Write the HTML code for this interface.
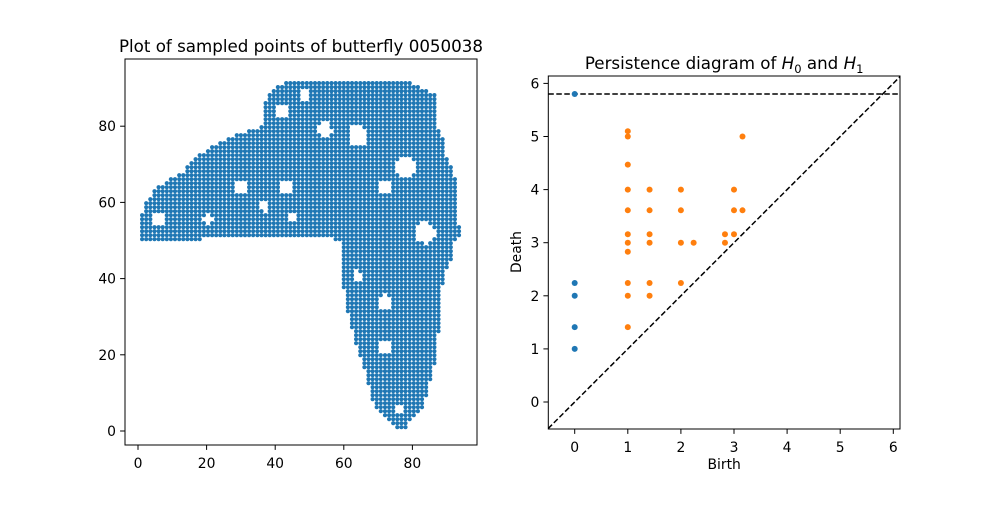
<!DOCTYPE html>
<html><head><meta charset="utf-8">
<style>
body{margin:0;background:#fff;}
svg text{font-family:"DejaVu Sans","Liberation Sans",sans-serif;fill:#000;}
</style></head>
<body>
<svg id="fig" width="1000" height="500" viewBox="0 0 1000 500" xmlns="http://www.w3.org/2000/svg">
<rect width="1000" height="500" fill="#fff"/>
<g id="left"></g>
<g id="right"></g>
</svg>
<script>
// ---- Left chart data: row spans of the butterfly silhouette ----
const rowY =    [1, 2,  6,   12, 20, 30, 40, 46, 49.9, 50,  52,  56,  60, 64, 68,   72,   76,   78, 80, 88, 92];
const rowXMin = [76,74, 69.5,68, 65, 62, 60, 60, 60,   1.5, 1.3, 1.3, 3,  6,  13.7, 17.5, 24.5, 30, 37, 38, 44];
const rowXMax = [78,79, 83,  85, 87, 88, 89, 92, 92,   93,  94,  93,  93, 93, 92,   90,   89.5, 88, 87, 87, 78];
const gapY = [49.9, 51.3];
const gapX = [19, 57];
// holes: x, y, radius (data units)
const holeX = [5.8, 30, 43, 37, 54.5, 64, 78, 72, 83.7, 42, 48.7, 72, 72, 76, 64, 20.4, 45];
const holeY = [55.6, 64, 64, 59, 79, 77.5, 69.5, 64, 52, 84, 88, 34, 22, 5.8, 40.7, 55.6, 56];
const holeR = [1.8, 2, 2, 1.4, 2, 2.8, 2.8, 2, 2.8, 2, 1.4, 2, 1.8, 1.5, 1.4, 1.4, 1.4];
const leftXTicks = [0, 20, 40, 60, 80];
const leftYTicks = [0, 20, 40, 60, 80];

// ---- Right chart data ----
const h0Birth = [0, 0, 0, 0, 0];
const h0Death = [5.8, 2.24, 2.0, 1.41, 1.0];
const h1Birth = [1,1,1,1,1,1,1,1,1,1,1, 1.41,1.41,1.41,1.41,1.41,1.41, 2,2,2,2, 2.24, 2.83,2.83, 3,3,3, 3.16,3.16];
const h1Death = [5.1,5.0,4.47,4.0,3.61,3.16,3.0,2.83,2.24,2.0,1.41, 4.0,3.61,3.16,3.0,2.24,2.0, 4.0,3.61,3.0,2.24, 3.0, 3.16,3.0, 4.0,3.61,3.16, 5.0,3.61];
const infDeath = [5.8];
const rightTicks = [0, 1, 2, 3, 4, 5, 6];

const NS = "http://www.w3.org/2000/svg";
function mk(tag, attrs, parent){const e=document.createElementNS(NS,tag);for(const k in attrs)e.setAttribute(k,attrs[k]);parent.appendChild(e);return e;}

// Left axes
const L = {x0:125,x1:477,y0:59,y1:445};
const lx = v => 138 + v*3.43;
const ly = v => 431 - v*3.81;
const left = document.getElementById('left');
const dots = mk('g',{},left);


function spanAt(y){
  for(let i=0;i<rowY.length-1;i++){
    if(y>=rowY[i] && y<=rowY[i+1]){
      const t=(y-rowY[i])/(rowY[i+1]-rowY[i]);
      return [rowXMin[i]+t*(rowXMin[i+1]-rowXMin[i]), rowXMax[i]+t*(rowXMax[i+1]-rowXMax[i])];
    }
  }
  return null;
}
function inHole(x,y){
  for(let k=0;k<holeX.length;k++){
    const dx=(x-holeX[k]), dy=(y-holeY[k]);
    if(dx*dx+dy*dy<holeR[k]*holeR[k]) return true;
  }
  return false;
}
for(let y=1;y<=92.01;y+=1.05){
  const s=spanAt(y); if(!s) continue;
  const x0=Math.round(s[0]/1.2)*1.2;
  for(let x=x0;x<=s[1]+0.01;x+=1.2){
    if(y>=gapY[0]&&y<=gapY[1]&&x>gapX[0]&&x<gapX[1]) continue;
    if(inHole(x,y)) continue;
    const c=mk('circle',{cx:lx(x).toFixed(1),cy:ly(y).toFixed(1),r:2.1,fill:'#1f77b4'},dots);
    
    
  }
}
const lf=mk('rect',{x:L.x0,y:L.y0,width:L.x1-L.x0,height:L.y1-L.y0,fill:'none',stroke:'#000','stroke-width':1},left);


leftXTicks.forEach(v=>{
  mk('line',{x1:lx(v),x2:lx(v),y1:L.y1,y2:L.y1+4.9,stroke:'#000'},left);
  const t=mk('text',{x:lx(v),y:L.y1+23,'font-size':13.9,'text-anchor':'middle'},left);t.textContent=v;
  
  
});
leftYTicks.forEach(v=>{
  mk('line',{x1:L.x0-4.9,x2:L.x0,y1:ly(v),y2:ly(v),stroke:'#000'},left);
  const t=mk('text',{x:L.x0-9,y:ly(v)+5,'font-size':13.9,'text-anchor':'end'},left);t.textContent=v;
  
  
});
const lt=mk('text',{x:(L.x0+L.x1)/2,y:52,'font-size':16.7,'text-anchor':'middle'},left);
lt.textContent='Plot of sampled points of butterfly 0050038';



// Right axes
const R = {x0:548.3,x1:900,y0:76,y1:429};
const rx = v => 574.7 + v*53.1;
const ry = v => 402 - v*53.1;
const right = document.getElementById('right');
const clip = mk('clipPath',{id:'rc'},right);
mk('rect',{x:R.x0,y:R.y0,width:R.x1-R.x0,height:R.y1-R.y0},clip);
const inner = mk('g',{'clip-path':'url(#rc)'},right);
const diag=mk('line',{x1:rx(-0.5),y1:ry(-0.5),x2:rx(6.2),y2:ry(6.2),stroke:'#000','stroke-width':1.5,'stroke-dasharray':'5.5,2.5'},inner);


infDeath.forEach(d=>{
  const l=mk('line',{x1:R.x0,x2:R.x1,y1:ry(d),y2:ry(d),stroke:'#000','stroke-width':1.5,'stroke-dasharray':'5.5,2.5'},inner);
  
  
});
h0Birth.forEach((b,i)=>{
  const c=mk('circle',{cx:rx(b),cy:ry(h0Death[i]),r:3,fill:'#1f77b4'},inner);
  
  
});
h1Birth.forEach((b,i)=>{
  const c=mk('circle',{cx:rx(b),cy:ry(h1Death[i]),r:3,fill:'#ff7f0e'},inner);
  
  
});
const rf=mk('rect',{x:R.x0,y:R.y0,width:R.x1-R.x0,height:R.y1-R.y0,fill:'none',stroke:'#000','stroke-width':1},right);


rightTicks.forEach(v=>{
  mk('line',{x1:rx(v),x2:rx(v),y1:R.y1,y2:R.y1+4.9,stroke:'#000'},right);
  const t=mk('text',{x:rx(v),y:R.y1+23,'font-size':13.9,'text-anchor':'middle'},right);t.textContent=v;
  
  
  mk('line',{x1:R.x0-4.9,x2:R.x0,y1:ry(v),y2:ry(v),stroke:'#000'},right);
  const u=mk('text',{x:R.x0-9,y:ry(v)+5,'font-size':13.9,'text-anchor':'end'},right);u.textContent=v;
  
  
});
const xl=mk('text',{x:(R.x0+R.x1)/2,y:469,'font-size':13.9,'text-anchor':'middle'},right);
xl.textContent='Birth';


const yl=mk('text',{x:521,y:252,'font-size':13.9,'text-anchor':'middle',transform:'rotate(-90 521 252)'},right);
yl.textContent='Death';


const rt=mk('text',{x:(R.x0+R.x1)/2,y:69,'font-size':16.7,'text-anchor':'middle'},right);
rt.innerHTML='Persistence diagram of <tspan font-style="italic">H</tspan><tspan font-size="11.5" dy="4">0</tspan><tspan dy="-4"> and </tspan><tspan font-style="italic">H</tspan><tspan font-size="11.5" dy="4">1</tspan>';


</script>
</body></html>
